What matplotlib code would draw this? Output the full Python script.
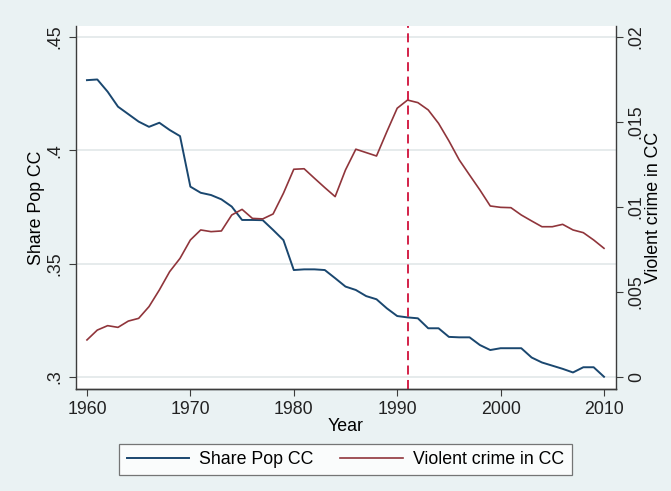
import matplotlib.pyplot as plt
import numpy as np

plt.rcParams['font.family'] = ['Liberation Sans', 'DejaVu Sans']

years = np.arange(1960, 2011)

# share of population living in the central city (left axis)
share_pop = [0.4310, 0.4313, 0.4259, 0.4193, 0.4160, 0.4127, 0.4104, 0.4122, 0.4090, 0.4063,
             0.3840, 0.3813, 0.3803, 0.3784, 0.3752, 0.3693, 0.3693, 0.3692, 0.3649, 0.3604,
             0.3472, 0.3475, 0.3475, 0.3472, 0.3436, 0.3399, 0.3384, 0.3357, 0.3343, 0.3303,
             0.3269, 0.3263, 0.3259, 0.3215, 0.3215, 0.3177, 0.3175, 0.3175, 0.3141, 0.3119,
             0.3127, 0.3127, 0.3127, 0.3086, 0.3064, 0.3050, 0.3036, 0.3020, 0.3043, 0.3043,
             0.3001]

# violent crime rate in the central city (right axis)
violent = [0.00218, 0.00276, 0.00302, 0.00292, 0.00329, 0.00345, 0.00414, 0.00512, 0.00620, 0.00698,
           0.00806, 0.00865, 0.00855, 0.00859, 0.00953, 0.00986, 0.00933, 0.00930, 0.00959, 0.01081,
           0.01222, 0.01225, 0.01169, 0.01114, 0.01061, 0.01218, 0.01340, 0.01320, 0.01300, 0.01443,
           0.01581, 0.01629, 0.01614, 0.01571, 0.01492, 0.01389, 0.01277, 0.01188, 0.01100, 0.01006,
           0.00998, 0.00996, 0.00953, 0.00918, 0.00884, 0.00884, 0.00898, 0.00865, 0.00849, 0.00806,
           0.00757]

left_ticks = [0.30, 0.35, 0.40, 0.45]
left_labels = ['.3', '.35', '.4', '.45']
right_ticks = [0, 0.005, 0.01, 0.015, 0.02]
right_labels = ['0', '.005', '.01', '.015', '.02']
x_ticks = [1960, 1970, 1980, 1990, 2000, 2010]
break_year = 1991

bg = '#eaf2f3'
navy = '#1a476f'
maroon = '#90353b'
axcol = '#3c3c3c'
fs = 12.8

fig = plt.figure(figsize=(6.71, 4.91), dpi=100, facecolor=bg)
ax = fig.add_axes([76 / 671, 1 - 389 / 491, 540 / 671, 363 / 491])
ax.set_facecolor('white')

for t in left_ticks:
    ax.axhline(t, color='#e4e9eb', lw=1.3, zorder=0)

l1, = ax.plot(years, share_pop, color=navy, lw=1.4, label='Share Pop CC')
ax.set_xlim(1958.94, 2011.16)
ax.set_ylim(0.2947, 0.4549)
ax.set_yticks(left_ticks)
ax.set_yticklabels(left_labels, rotation=90, va='center', fontsize=fs)
ax.set_xticks(x_ticks)
ax.set_xticklabels([str(x) for x in x_ticks], fontsize=fs)
ax.set_xlabel('Year', fontsize=fs)
ax.set_ylabel('Share Pop CC', fontsize=fs)
ax.xaxis.set_label_coords(0.5, -0.08)
ax.yaxis.set_label_coords(-0.057, 0.5)

ax2 = ax.twinx()
l2, = ax2.plot(years, violent, color=maroon, lw=1.2, label='Violent crime in CC')
ax2.axvline(break_year, color='#d0103a', lw=1.3, ls=(0, (5, 3)))
ax2.set_ylim(-0.000706, 0.020647)
ax2.set_yticks(right_ticks)
ax2.set_yticklabels(right_labels, rotation=90, va='center', fontsize=fs)
ax2.set_ylabel('Violent crime in CC', fontsize=fs)
ax2.yaxis.set_label_coords(1.054, 0.5)

for a in (ax, ax2):
    a.spines['top'].set_visible(False)
    for s in ('left', 'right', 'bottom'):
        a.spines[s].set_color(axcol)
        a.spines[s].set_linewidth(1.0)
    a.tick_params(colors=axcol, labelcolor='#222222', length=5, width=0.8)
ax.tick_params(axis='y', pad=4)
ax2.spines['left'].set_visible(False)
ax.spines['right'].set_visible(False)

leg = fig.legend([l1, l2], ['Share Pop CC', 'Violent crime in CC'], ncol=2, loc='center',
                 bbox_to_anchor=(345.5 / 671, 1 - 459.5 / 491), fontsize=fs,
                 frameon=True, fancybox=False, handlelength=3.5, handletextpad=0.6,
                 columnspacing=1.5, borderpad=0.4)
leg.get_frame().set_edgecolor('#555555')
leg.get_frame().set_linewidth(0.9)

fig.savefig('out.png', dpi=100, facecolor=bg)
